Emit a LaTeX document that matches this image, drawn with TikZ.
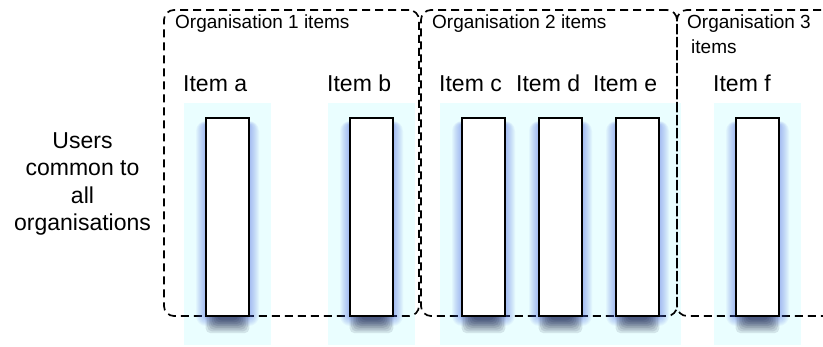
\documentclass[tikz,border=0pt]{standalone}
\usepackage{fontspec}
\setmainfont{Liberation Sans}
\usetikzlibrary{calc}
\definecolor{cyanbg}{RGB}{234,254,255}
\definecolor{glowc}{RGB}{80,110,230}
\definecolor{shadc}{RGB}{20,28,60}
\tikzset{
  orgbox/.style={draw, dash pattern=on 8pt off 5pt, line width=1.7pt, rounded corners=10pt, inner sep=0pt},
  barbox/.style={draw, fill=white, line width=1.8pt, minimum width=43pt, minimum height=198pt, inner sep=0pt},
  itemlbl/.style={anchor=base west, inner sep=0pt, font=\fontsize{23}{27}\selectfont},
  orglbl/.style={anchor=base west, inner sep=0pt, font=\fontsize{19}{25}\selectfont},
}
\begin{document}
\begin{tikzpicture}[x=1pt,y=-1pt]
\useasboundingbox (0,0) rectangle (823,346);
\clip (0,0) rectangle (823,346);
% cyan columns
\foreach \L in {184,328,440,517,594,714}
  \fill[cyanbg] (\L,103) rectangle (\L+87,345);
% organisation boxes
\node[orgbox, minimum width=255pt, minimum height=306pt] (org1) at (291.5,163) {};
\node[orgbox, minimum width=256pt, minimum height=306pt] (org2) at (549,163) {};
\node[orgbox, minimum width=180pt, minimum height=306pt] (org3) at (767,163) {};
% items
\foreach \n/\L/\t in {a/184/Item a, b/328/Item b, c/440/Item c, d/517/Item d, e/594/Item e, f/714/Item f}{
  \coordinate (c\n) at (\L+43.5,217);
  \foreach \i in {1,...,10}
    \fill[glowc, opacity=0.055, rounded corners=\i pt]
      ($(c\n)+(-21.5-\i,-99+7-0.4*\i)$) rectangle ($(c\n)+(21.5+\i,99+\i)$);
  \foreach \j in {1,...,8}
    \fill[shadc, opacity=0.11, rounded corners=5pt]
      ($(c\n)+(-21.5-2+1.6*\j,95)$) rectangle ($(c\n)+(21.5+2-1.6*\j,99+19-1.8*\j)$);
  \node[barbox] (bar\n) at (c\n) {};
  \node[itemlbl] (lbl\n) at (\L-1,91) {\t};
}
% labels
\node[orglbl] (o1) at (175,28) {Organisation 1 items};
\node[orglbl] (o2) at (432,28) {Organisation 2 items};
\node[orglbl, align=left] (o3) at (687,53) {Organisation 3\\[-0.5pt]\hspace{4pt}items};
\node[anchor=base, inner sep=0pt, align=center, font=\fontsize{23}{27.5}\selectfont] (users) at (82.5,230.5) {Users\\common to\\all\\organisations};
\end{tikzpicture}
\end{document}
